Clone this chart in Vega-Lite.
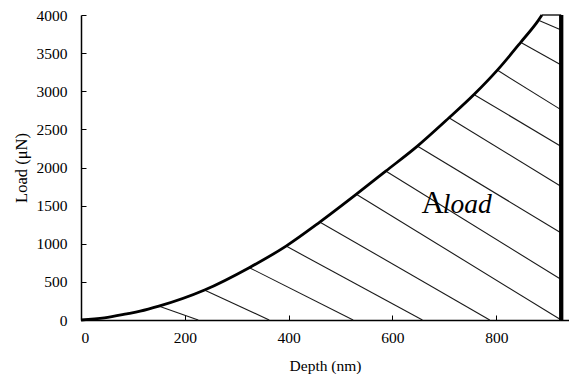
{
  "$schema": "https://vega.github.io/schema/vega-lite/v6.json",
  "autosize": {"type": "none"},
  "padding": {"left": 81, "top": 15, "right": 0, "bottom": 54},
  "width": 488,
  "height": 305,
  "background": "white",
  "config": {
    "view": {"stroke": null},
    "axis": {
      "grid": false,
      "domainColor": "#000000",
      "domainWidth": 1.5,
      "tickColor": "#000000",
      "tickWidth": 1,
      "tickSize": -5,
      "labelOverlap": false,
      "labelFont": "Liberation Serif",
      "labelFontSize": 15.5,
      "labelColor": "#000000",
      "titleFont": "Liberation Serif",
      "titleFontSize": 15.5,
      "titleFontWeight": "normal",
      "titleColor": "#000000"
    }
  },
  "datasets": {
    "curve": [
      {"depth": 0, "load": 0},
      {"depth": 45, "load": 28},
      {"depth": 88, "load": 80},
      {"depth": 114, "load": 115},
      {"depth": 150, "load": 181},
      {"depth": 238, "load": 393},
      {"depth": 324, "load": 686},
      {"depth": 395, "load": 969},
      {"depth": 460, "load": 1284},
      {"depth": 530, "load": 1647},
      {"depth": 587, "load": 1952},
      {"depth": 648, "load": 2280},
      {"depth": 709, "load": 2652},
      {"depth": 757, "load": 2957},
      {"depth": 802, "load": 3277},
      {"depth": 847, "load": 3642},
      {"depth": 881, "load": 3930},
      {"depth": 888, "load": 4000}
    ],
    "hatch": [
      {"depth": 150.7, "load": 181, "depthEnd": 225.8, "loadEnd": 0},
      {"depth": 238.7, "load": 390, "depthEnd": 362.5, "loadEnd": 0},
      {"depth": 325.3, "load": 683, "depthEnd": 524.2, "loadEnd": 0},
      {"depth": 396, "load": 966, "depthEnd": 657.7, "loadEnd": 0},
      {"depth": 461.4, "load": 1280, "depthEnd": 787.3, "loadEnd": 0},
      {"depth": 531.9, "load": 1643, "depthEnd": 925, "loadEnd": 0},
      {"depth": 588.5, "load": 1948, "depthEnd": 925, "loadEnd": 530},
      {"depth": 649.3, "load": 2276, "depthEnd": 925, "loadEnd": 1142},
      {"depth": 710.3, "load": 2647, "depthEnd": 925, "loadEnd": 1752},
      {"depth": 758.4, "load": 2952, "depthEnd": 925, "loadEnd": 2276},
      {"depth": 803.3, "load": 3271, "depthEnd": 925, "loadEnd": 2756},
      {"depth": 848.3, "load": 3637, "depthEnd": 925, "loadEnd": 3345},
      {"depth": 883.5, "load": 3925, "depthEnd": 925, "loadEnd": 3804}
    ]
  },
  "encoding": {
    "x": {
      "field": "depth",
      "type": "quantitative",
      "scale": {"domain": [0, 940], "nice": false, "zero": true},
      "axis": {"title": "Depth (nm)", "values": [0, 200, 400, 600, 800], "format": "d", "labelPadding": 15, "titlePadding": 13}
    },
    "y": {
      "field": "load",
      "type": "quantitative",
      "scale": {"domain": [0, 4000], "nice": false},
      "axis": {"title": "Load (μN)", "titleFontSize": 16.5, "values": [0, 500, 1000, 1500, 2000, 2500, 3000, 3500, 4000], "format": "d", "labelOverlap": false, "labelPadding": 19, "titlePadding": 7}
    }
  },
  "layer": [
    {
      "data": {"name": "hatch"},
      "mark": {"type": "rule", "color": "#1a1a1a", "strokeWidth": 1.1},
      "encoding": {
        "x2": {"field": "depthEnd"},
        "y2": {"field": "loadEnd"}
      }
    },
    {
      "data": {"name": "curve"},
      "mark": {"type": "line", "color": "#000000", "strokeWidth": 2.8, "interpolate": "monotone"},
      "encoding": {}
    },
    {
      "data": {"values": [{"depth": 888, "depthEnd": 925, "load": 4000}]},
      "mark": {"type": "rule", "color": "#000000", "strokeWidth": 1.3},
      "encoding": {
        "x2": {"field": "depthEnd"}
      }
    },
    {
      "data": {"values": [{"depth": 925, "load": 0, "loadEnd": 4000}]},
      "mark": {"type": "rule", "color": "#000000", "strokeWidth": 4.3},
      "encoding": {
        "y2": {"field": "loadEnd"}
      }
    },
    {
      "data": {"values": [{"depth": 656, "load": 1404, "label": "A"}]},
      "mark": {"type": "text", "font": "Liberation Serif", "fontSize": 31, "align": "left", "baseline": "alphabetic", "color": "#000000"},
      "encoding": {
        "text": {"field": "label"}
      }
    },
    {
      "data": {"values": [{"depth": 697, "load": 1404, "label": "load"}]},
      "mark": {"type": "text", "font": "Liberation Serif", "fontSize": 27.5, "fontStyle": "italic", "align": "left", "baseline": "alphabetic", "color": "#000000"},
      "encoding": {
        "text": {"field": "label"}
      }
    }
  ]
}
